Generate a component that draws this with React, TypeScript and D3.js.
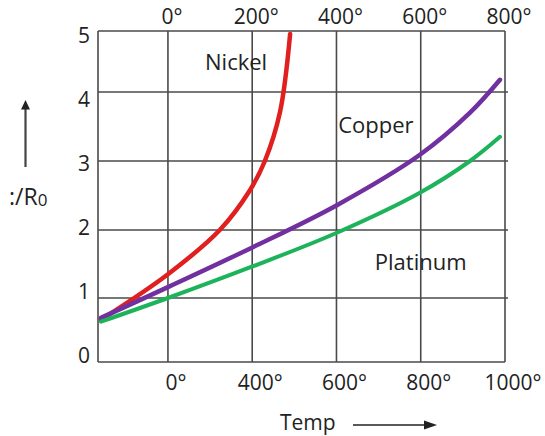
import React from "react";
import * as d3 from "d3";

const topTicks = [0, 200, 400, 600, 800];
const topTickLabels = ["0°", "200°", "400°", "600°", "800°"];
const bottomTickLabels = ["0°", "400°", "600°", "800°", "1000°"];
const yTicks = [0, 1, 2, 3, 4, 5];

const nickelT = [-159, 0, 123, 195, 230, 266, 290];
const nickelR = [0.66, 1.35, 2.0, 2.58, 3.0, 3.71, 4.95];

const copperT = [-159, 0, 199, 401, 598, 717, 788];
const copperR = [0.69, 1.16, 1.74, 2.36, 3.09, 3.7, 4.2];

const platinumT = [-159, 0, 199, 401, 598, 717, 788];
const platinumR = [0.63, 1.0, 1.46, 1.96, 2.54, 3.0, 3.35];

const seriesNames = ["Nickel", "Copper", "Platinum"];
const labelT = [88, 404, 491];
const labelR = [4.36, 3.41, 1.41];

export default function App() {
  const W = 545;
  const H = 436;
  const x = d3.scaleLinear().domain([-166, 800]).range([98, 505]);
  const y = d3
    .scaleLinear()
    .domain([0, 1, 2, 3, 4, 5])
    .range([362, 298, 230, 161, 92, 31]);
  const yLabel = d3.scaleLinear().domain([0, 5]).range([355, 35]);

  const line = d3
    .line<[number, number]>()
    .x((d) => x(d[0]))
    .y((d) => y(d[1]))
    .curve(d3.curveCatmullRom.alpha(0.5));

  const series = [
    { t: nickelT, r: nickelR, color: "#e01f1f", w: 4.5 },
    { t: copperT, r: copperR, color: "#7030a0", w: 4.5 },
    { t: platinumT, r: platinumR, color: "#1db35a", w: 4 },
  ];

  const gridColor = "#4a4a4a";
  const font = "'Open Sans', sans-serif";
  const [x0, x1] = x.range();
  const yTop = y(5);
  const yBot = y(0);

  return (
    <svg
      width={W}
      height={H}
      style={{ position: "absolute", left: 0, top: 0, background: "#fff" }}
      fontFamily={font}
    >
      <rect width={W} height={H} fill="#fff" />
      {yTicks.map((v) => (
        <line
          key={"h" + v}
          x1={x0}
          x2={x1 + (v > 0 && v < 5 ? 3 : 0)}
          y1={y(v)}
          y2={y(v)}
          stroke={gridColor}
          strokeWidth={1.6}
        />
      ))}
      {[-166, ...topTicks].map((v) => (
        <line
          key={"v" + v}
          x1={x(v)}
          x2={x(v)}
          y1={yTop}
          y2={yBot}
          stroke={gridColor}
          strokeWidth={1.6}
        />
      ))}
      {series.map((s, i) => (
        <path
          key={i}
          d={line(s.t.map((t, j) => [t, s.r[j]] as [number, number])) || ""}
          fill="none"
          stroke={s.color}
          strokeWidth={s.w}
          strokeLinecap="round"
        />
      ))}
      {seriesNames.map((n, i) => (
        <text
          key={n}
          x={x(labelT[i])}
          y={y(labelR[i])}
          fontSize={22}
          fill="#222"
        >
          {n}
        </text>
      ))}
      {topTicks.map((v, i) => (
        <text
          key={"tt" + v}
          x={x(v) + 4}
          y={24}
          fontSize={21}
          textAnchor="middle"
          fill="#222"
        >
          {topTickLabels[i]}
        </text>
      ))}
      {topTicks.map((v, i) => (
        <text
          key={"bt" + v}
          x={x(v) + 8}
          y={390}
          fontSize={21}
          textAnchor="middle"
          fill="#222"
        >
          {bottomTickLabels[i]}
        </text>
      ))}
      {yTicks.map((v) => (
        <text
          key={"yl" + v}
          x={90}
          y={yLabel(v)}
          fontSize={21}
          textAnchor="end"
          dominantBaseline="central"
          fill="#222"
        >
          {v}
        </text>
      ))}
      <line x1={25.5} x2={25.5} y1={108} y2={167} stroke="#444" strokeWidth={2.2} />
      <path d="M25.5,100 L21,109.5 L30,109.5 Z" fill="#222" />
      <text x={9} y={205} fontSize={23} fill="#222">
        :/R
        <tspan fontSize={17} dy={1}>
          0
        </tspan>
      </text>
      <text x={280} y={430} fontSize={21} fill="#222">
        Temp
      </text>
      <line x1={353} x2={426} y1={425} y2={425} stroke="#222" strokeWidth={1.6} />
      <path d="M437,425 L424,420.5 L424,429.5 Z" fill="#222" />
    </svg>
  );
}
